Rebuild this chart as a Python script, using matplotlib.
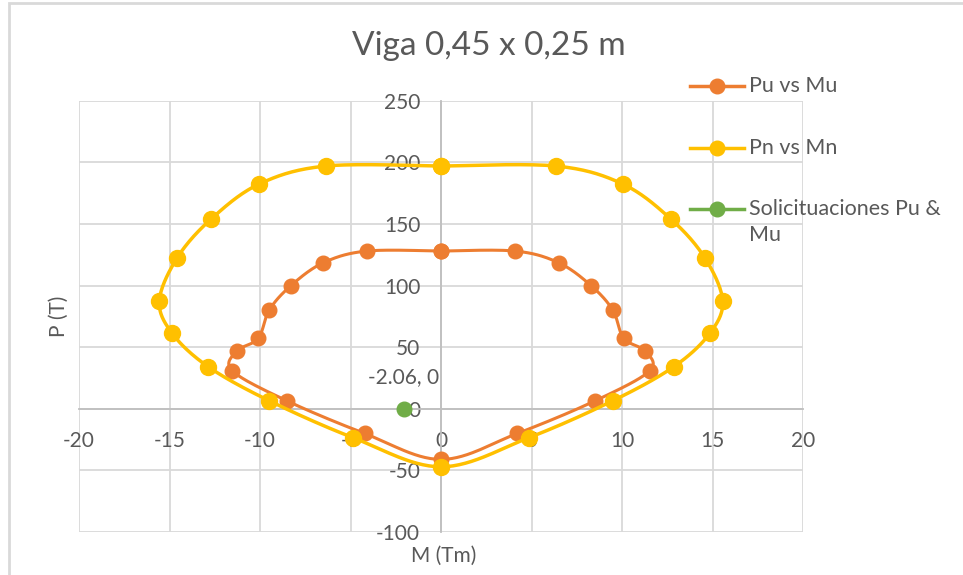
import numpy as np
import matplotlib
matplotlib.use("Agg")
import matplotlib.pyplot as plt
from matplotlib.lines import Line2D
from matplotlib.patches import Rectangle

plt.rcParams['font.family'] = ['Lato', 'DejaVu Sans']
plt.rcParams['axes.unicode_minus'] = False

# interaction diagram, beam 0.45 x 0.25 m
mu = [0, 4.09, 6.5, 8.3, 9.49, 10.1, 11.29, 11.53, 8.52, 4.22, 0,
      -4.22, -8.52, -11.53, -11.29, -10.1, -9.49, -8.3, -6.5, -4.09, 0]
pu = [128, 128, 118.5, 99.8, 80.1, 57.1, 46.8, 30.8, 6.5, -20.0, -41.1,
      -20.0, 6.5, 30.8, 46.8, 57.1, 80.1, 99.8, 118.5, 128, 128]

mn = [0, 6.34, 10.04, 12.72, 14.57, 15.56, 14.85, 12.86, 9.49, 4.85, 0,
      -4.85, -9.49, -12.86, -14.85, -15.56, -14.57, -12.72, -10.04, -6.34, 0]
pn = [197, 197, 182.4, 153.7, 122.6, 87.7, 61.2, 34.1, 6.5, -23.5, -47.1,
      -23.5, 6.5, 34.1, 61.2, 87.7, 122.6, 153.7, 182.4, 197, 197]

m_sol = [-2.06]
p_sol = [0]

ORANGE = '#ED7D31'
YELLOW = '#FFC000'
GREEN = '#70AD47'
GRID = '#D9D9D9'
TXT = '#595959'


def smooth(x, y, n=30):
    # excel-like smoothed line: bezier with control points from neighbours
    p = np.column_stack([x, y]).astype(float)
    p = np.vstack([p[0], p, p[-1]])
    t = np.linspace(0, 1, n)[:, None]
    out = []
    for i in range(1, len(p) - 2):
        a, b = p[i], p[i + 1]
        c1 = a + (p[i + 1] - p[i - 1]) / 6
        c2 = b - (p[i + 2] - p[i]) / 6
        seg = ((1 - t) ** 3) * a + 3 * ((1 - t) ** 2) * t * c1 \
            + 3 * (1 - t) * t ** 2 * c2 + t ** 3 * b
        out.append(seg)
    out = np.vstack(out)
    return out[:, 0], out[:, 1]


W, H = 963, 575
fig = plt.figure(figsize=(W / 100, H / 100), dpi=100)
ax = fig.add_axes([79 / W, 1 - 532 / H, 724 / W, 431.3 / H])

sx, sy = smooth(mu, pu)
ax.plot(sx, sy, color=ORANGE, lw=2.2, zorder=3)
ax.plot(mu, pu, 'o', color=ORANGE, ms=10.5, zorder=3)

sx, sy = smooth(mn, pn)
ax.plot(sx, sy, color=YELLOW, lw=2.5, zorder=4)
ax.plot(mn, pn, 'o', color=YELLOW, ms=11.5, zorder=4)

ax.plot(m_sol, p_sol, 'o', color=GREEN, ms=10.5, zorder=5)
ax.annotate(f"{m_sol[0]:.2f}, {p_sol[0]}", (m_sol[0], p_sol[0]),
            xytext=(0, 23), textcoords='offset points', ha='center',
            va='center', fontsize=15, color=TXT, zorder=6)

ax.set_xlim(-20, 20)
ax.set_ylim(-100, 250)
ax.set_xticks(np.arange(-20, 21, 5))
ax.set_yticks(np.arange(-100, 251, 50))
ax.grid(True, color=GRID, lw=1.3)
ax.set_axisbelow(True)

for s in ['top', 'right']:
    ax.spines[s].set_visible(False)
ax.spines['left'].set_position(('data', 0))
ax.spines['bottom'].set_position(('data', 0))
for s in ['left', 'bottom']:
    ax.spines[s].set_color('#BFBFBF')
    ax.spines[s].set_linewidth(1.3)
    ax.spines[s].set_zorder(1)

ax.tick_params(axis='x', length=0, pad=16, labelsize=15, labelcolor=TXT)
ax.tick_params(axis='y', length=0, pad=15, labelsize=15, labelcolor=TXT)

fig.text(489 / W, 1 - 46 / H, 'Viga 0,45 x 0,25 m', ha='center', va='center',
         fontsize=24, color=TXT)
fig.text(59 / W, 1 - 316 / H, 'P (T)', ha='center', va='center',
         rotation=90, fontsize=15, color=TXT)
fig.text(444 / W, 1 - 556 / H, 'M (Tm)', ha='center', va='center',
         fontsize=15, color=TXT)

# legend drawn by hand
entries = [(ORANGE, 'Pu vs Mu', 86), (YELLOW, 'Pn vs Mn', 148),
           (GREEN, 'Solicituaciones Pu &\nMu', 209)]
for col, lab, ypx in entries:
    yy = 1 - ypx / H
    fig.add_artist(Line2D([690 / W, 744 / W], [yy, yy], color=col, lw=2.5,
                          transform=fig.transFigure))
    fig.add_artist(Line2D([717 / W], [yy], marker='o', color=col, ms=10.5,
                          transform=fig.transFigure))
    if '\n' in lab:
        fig.text(749 / W, yy + 10 / H, lab, ha='left', va='top',
                 fontsize=15.5, color=TXT, linespacing=1.35,
                 transform=fig.transFigure)
    else:
        fig.text(749 / W, yy, lab, ha='left', va='center',
                 fontsize=15.5, color=TXT, transform=fig.transFigure)

# chart area border
fig.add_artist(Rectangle((9 / W, -0.1), 1.2, 1 - 3 / H + 0.1, fill=False,
                         ec=GRID, lw=2, transform=fig.transFigure))

fig.savefig('out.png', dpi=100)
